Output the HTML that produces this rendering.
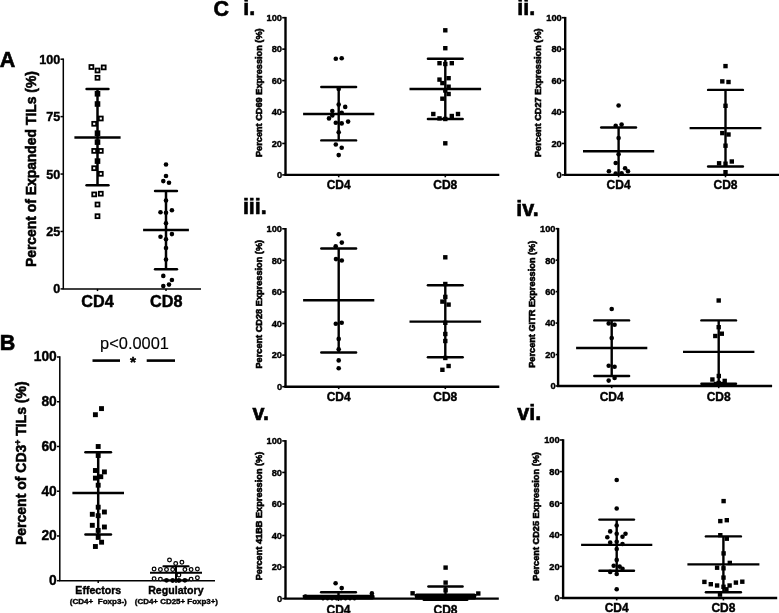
<!DOCTYPE html>
<html lang="en">
<head>
<meta charset="utf-8">
<title>Figure</title>
<style>
html,body{margin:0;padding:0;background:#fff;}
body{width:779px;height:613px;overflow:hidden;font-family:'Liberation Sans', sans-serif;}
svg{display:block;will-change:transform;filter:grayscale(1);}
svg text{font-family:'Liberation Sans', sans-serif;fill:#000;}
</style>
</head>
<body>
<svg width="779" height="613" viewBox="0 0 779 613">
<rect x="0" y="0" width="779" height="613" fill="#fff"/>
<text x="-0.30" y="67.30" font-size="21.5" font-weight="bold" text-anchor="start" stroke="#000" stroke-width="0.63">A</text>
<line x1="63.30" y1="58.45" x2="63.30" y2="288.90" stroke="#000" stroke-width="1.5" stroke-linecap="butt"/>
<line x1="62.55" y1="288.90" x2="201.00" y2="288.90" stroke="#000" stroke-width="1.5" stroke-linecap="butt"/>
<line x1="60.50" y1="288.90" x2="63.30" y2="288.90" stroke="#000" stroke-width="1.5" stroke-linecap="butt"/>
<text x="60.20" y="293.44" font-size="12.6" font-weight="bold" text-anchor="end" stroke="#000" stroke-width="0.40">0</text>
<line x1="60.50" y1="231.47" x2="63.30" y2="231.47" stroke="#000" stroke-width="1.5" stroke-linecap="butt"/>
<text x="60.20" y="236.01" font-size="12.6" font-weight="bold" text-anchor="end" stroke="#000" stroke-width="0.40">25</text>
<line x1="60.50" y1="174.05" x2="63.30" y2="174.05" stroke="#000" stroke-width="1.5" stroke-linecap="butt"/>
<text x="60.20" y="178.59" font-size="12.6" font-weight="bold" text-anchor="end" stroke="#000" stroke-width="0.40">50</text>
<line x1="60.50" y1="116.62" x2="63.30" y2="116.62" stroke="#000" stroke-width="1.5" stroke-linecap="butt"/>
<text x="60.20" y="121.16" font-size="12.6" font-weight="bold" text-anchor="end" stroke="#000" stroke-width="0.40">75</text>
<line x1="60.50" y1="59.20" x2="63.30" y2="59.20" stroke="#000" stroke-width="1.5" stroke-linecap="butt"/>
<text x="60.20" y="63.74" font-size="12.6" font-weight="bold" text-anchor="end" stroke="#000" stroke-width="0.40">100</text>
<line x1="97.50" y1="288.90" x2="97.50" y2="291.10" stroke="#000" stroke-width="1.5" stroke-linecap="butt"/>
<line x1="166.00" y1="288.90" x2="166.00" y2="291.10" stroke="#000" stroke-width="1.5" stroke-linecap="butt"/>
<text x="35.70" y="169.10" font-size="13.9" font-weight="bold" text-anchor="middle" stroke="#000" stroke-width="0.59" transform="rotate(-90 35.70 169.10)">Percent of Expanded TILs (%)</text>
<text x="97.50" y="306.80" font-size="16.2" font-weight="bold" text-anchor="middle" stroke="#000" stroke-width="0.47">CD4</text>
<text x="166.30" y="306.80" font-size="16.2" font-weight="bold" text-anchor="middle" stroke="#000" stroke-width="0.47">CD8</text>
<rect x="89.45" y="65.05" width="3.9" height="3.9" fill="#fff" stroke="#000" stroke-width="1.8"/>
<rect x="101.75" y="65.45" width="3.9" height="3.9" fill="#fff" stroke="#000" stroke-width="1.8"/>
<rect x="95.55" y="68.55" width="3.9" height="3.9" fill="#fff" stroke="#000" stroke-width="1.8"/>
<rect x="95.55" y="75.85" width="3.9" height="3.9" fill="#fff" stroke="#000" stroke-width="1.8"/>
<rect x="94.70" y="91.00" width="5.6" height="5.6" fill="#000"/>
<rect x="94.70" y="101.20" width="5.6" height="5.6" fill="#000"/>
<rect x="98.85" y="116.55" width="3.9" height="3.9" fill="#fff" stroke="#000" stroke-width="1.8"/>
<rect x="92.25" y="121.85" width="3.9" height="3.9" fill="#fff" stroke="#000" stroke-width="1.8"/>
<rect x="94.70" y="130.40" width="5.6" height="5.6" fill="#000"/>
<rect x="94.70" y="139.30" width="5.6" height="5.6" fill="#000"/>
<rect x="92.25" y="148.95" width="3.9" height="3.9" fill="#fff" stroke="#000" stroke-width="1.8"/>
<rect x="98.85" y="148.95" width="3.9" height="3.9" fill="#fff" stroke="#000" stroke-width="1.8"/>
<rect x="94.70" y="158.30" width="5.6" height="5.6" fill="#000"/>
<rect x="92.25" y="166.25" width="3.9" height="3.9" fill="#fff" stroke="#000" stroke-width="1.8"/>
<rect x="98.85" y="171.85" width="3.9" height="3.9" fill="#fff" stroke="#000" stroke-width="1.8"/>
<rect x="92.25" y="192.45" width="3.9" height="3.9" fill="#fff" stroke="#000" stroke-width="1.8"/>
<rect x="98.85" y="191.75" width="3.9" height="3.9" fill="#fff" stroke="#000" stroke-width="1.8"/>
<rect x="95.55" y="202.55" width="3.9" height="3.9" fill="#fff" stroke="#000" stroke-width="1.8"/>
<rect x="95.55" y="214.25" width="3.9" height="3.9" fill="#fff" stroke="#000" stroke-width="1.8"/>
<line x1="97.50" y1="89.10" x2="97.50" y2="185.20" stroke="#000" stroke-width="2.5" stroke-linecap="butt"/>
<line x1="86.55" y1="89.10" x2="108.45" y2="89.10" stroke="#000" stroke-width="2.5" stroke-linecap="round"/>
<line x1="86.55" y1="185.20" x2="108.45" y2="185.20" stroke="#000" stroke-width="2.5" stroke-linecap="round"/>
<line x1="74.40" y1="137.60" x2="120.60" y2="137.60" stroke="#000" stroke-width="2.5" stroke-linecap="butt"/>
<line x1="166.00" y1="190.90" x2="166.00" y2="269.20" stroke="#000" stroke-width="2.5" stroke-linecap="butt"/>
<line x1="155.05" y1="190.90" x2="176.95" y2="190.90" stroke="#000" stroke-width="2.5" stroke-linecap="round"/>
<line x1="155.05" y1="269.20" x2="176.95" y2="269.20" stroke="#000" stroke-width="2.5" stroke-linecap="round"/>
<line x1="143.10" y1="230.00" x2="188.90" y2="230.00" stroke="#000" stroke-width="2.5" stroke-linecap="butt"/>
<circle cx="166.00" cy="164.50" r="2.3" fill="#000"/>
<circle cx="166.00" cy="176.00" r="2.3" fill="#000"/>
<circle cx="163.30" cy="181.10" r="2.3" fill="#000"/>
<circle cx="169.00" cy="182.70" r="2.3" fill="#000"/>
<circle cx="166.00" cy="200.50" r="2.3" fill="#000"/>
<circle cx="160.50" cy="212.30" r="2.3" fill="#000"/>
<circle cx="171.90" cy="210.30" r="2.3" fill="#000"/>
<circle cx="166.00" cy="212.70" r="2.3" fill="#000"/>
<circle cx="166.00" cy="223.30" r="2.3" fill="#000"/>
<circle cx="160.50" cy="236.70" r="2.3" fill="#000"/>
<circle cx="171.90" cy="234.10" r="2.3" fill="#000"/>
<circle cx="166.00" cy="239.20" r="2.3" fill="#000"/>
<circle cx="166.00" cy="248.00" r="2.3" fill="#000"/>
<circle cx="166.00" cy="259.60" r="2.3" fill="#000"/>
<circle cx="163.30" cy="275.90" r="2.3" fill="#000"/>
<circle cx="171.90" cy="280.00" r="2.3" fill="#000"/>
<circle cx="169.00" cy="284.60" r="2.3" fill="#000"/>
<circle cx="163.30" cy="286.10" r="2.3" fill="#000"/>
<text x="-0.20" y="349.60" font-size="21.5" font-weight="bold" text-anchor="start" stroke="#000" stroke-width="0.63">B</text>
<line x1="59.80" y1="356.25" x2="59.80" y2="580.70" stroke="#000" stroke-width="1.5" stroke-linecap="butt"/>
<line x1="59.05" y1="580.70" x2="215.00" y2="580.70" stroke="#000" stroke-width="1.5" stroke-linecap="butt"/>
<line x1="57.00" y1="580.70" x2="59.80" y2="580.70" stroke="#000" stroke-width="1.5" stroke-linecap="butt"/>
<text x="56.80" y="585.07" font-size="13.8" font-weight="bold" text-anchor="end" stroke="#000" stroke-width="0.40">0</text>
<line x1="57.00" y1="535.96" x2="59.80" y2="535.96" stroke="#000" stroke-width="1.5" stroke-linecap="butt"/>
<text x="56.80" y="540.33" font-size="13.8" font-weight="bold" text-anchor="end" stroke="#000" stroke-width="0.40">20</text>
<line x1="57.00" y1="491.22" x2="59.80" y2="491.22" stroke="#000" stroke-width="1.5" stroke-linecap="butt"/>
<text x="56.80" y="495.59" font-size="13.8" font-weight="bold" text-anchor="end" stroke="#000" stroke-width="0.40">40</text>
<line x1="57.00" y1="446.48" x2="59.80" y2="446.48" stroke="#000" stroke-width="1.5" stroke-linecap="butt"/>
<text x="56.80" y="450.85" font-size="13.8" font-weight="bold" text-anchor="end" stroke="#000" stroke-width="0.40">60</text>
<line x1="57.00" y1="401.74" x2="59.80" y2="401.74" stroke="#000" stroke-width="1.5" stroke-linecap="butt"/>
<text x="56.80" y="406.11" font-size="13.8" font-weight="bold" text-anchor="end" stroke="#000" stroke-width="0.40">80</text>
<line x1="57.00" y1="357.00" x2="59.80" y2="357.00" stroke="#000" stroke-width="1.5" stroke-linecap="butt"/>
<text x="56.80" y="361.37" font-size="13.8" font-weight="bold" text-anchor="end" stroke="#000" stroke-width="0.40">100</text>
<line x1="98.20" y1="580.70" x2="98.20" y2="582.90" stroke="#000" stroke-width="1.5" stroke-linecap="butt"/>
<line x1="176.00" y1="580.70" x2="176.00" y2="582.90" stroke="#000" stroke-width="1.5" stroke-linecap="butt"/>
<text x="26.3" y="463.2" font-size="14" font-weight="bold" text-anchor="middle" stroke="#000" stroke-width="0.58" transform="rotate(-90 26.3 463.2)">Percent of CD3<tspan font-size="8.5" dy="-5">+</tspan><tspan dy="5"> TILs (%)</tspan></text>
<text x="134.50" y="349.20" font-size="16.4" font-weight="normal" text-anchor="middle" stroke="#000" stroke-width="0.15">p&lt;0.0001</text>
<line x1="92.50" y1="360.60" x2="120.00" y2="360.60" stroke="#000" stroke-width="2.6" stroke-linecap="butt"/>
<line x1="146.70" y1="360.60" x2="175.00" y2="360.60" stroke="#000" stroke-width="2.6" stroke-linecap="butt"/>
<text x="133.10" y="366.80" font-size="15.5" font-weight="bold" text-anchor="middle" stroke="#000" stroke-width="0.45">*</text>
<text x="98.30" y="594.00" font-size="10.6" font-weight="bold" text-anchor="middle" stroke="#000" stroke-width="0.40">Effectors</text>
<text x="175.90" y="594.00" font-size="10.6" font-weight="bold" text-anchor="middle" stroke="#000" stroke-width="0.40">Regulatory</text>
<text x="98.30" y="604.30" font-size="8.05" font-weight="bold" text-anchor="middle" stroke="#000" stroke-width="0.40" style="white-space:pre">(CD4+  Foxp3-)</text>
<text x="176.40" y="604.30" font-size="7.95" font-weight="bold" text-anchor="middle" stroke="#000" stroke-width="0.40">(CD4+ CD25+ Foxp3+)</text>
<line x1="98.20" y1="452.20" x2="98.20" y2="534.60" stroke="#000" stroke-width="2.5" stroke-linecap="butt"/>
<line x1="85.45" y1="452.20" x2="110.95" y2="452.20" stroke="#000" stroke-width="2.5" stroke-linecap="round"/>
<line x1="85.45" y1="534.60" x2="110.95" y2="534.60" stroke="#000" stroke-width="2.5" stroke-linecap="round"/>
<line x1="72.40" y1="493.10" x2="124.00" y2="493.10" stroke="#000" stroke-width="2.5" stroke-linecap="butt"/>
<rect x="99.05" y="406.15" width="4.9" height="4.9" fill="#000"/>
<rect x="92.95" y="412.25" width="4.9" height="4.9" fill="#000"/>
<rect x="95.75" y="444.05" width="4.9" height="4.9" fill="#000"/>
<rect x="95.75" y="453.05" width="4.9" height="4.9" fill="#000"/>
<rect x="92.95" y="468.05" width="4.9" height="4.9" fill="#000"/>
<rect x="101.95" y="469.45" width="4.9" height="4.9" fill="#000"/>
<rect x="92.95" y="475.65" width="4.9" height="4.9" fill="#000"/>
<rect x="98.35" y="474.25" width="4.9" height="4.9" fill="#000"/>
<rect x="95.75" y="482.75" width="4.9" height="4.9" fill="#000"/>
<rect x="95.75" y="504.75" width="4.9" height="4.9" fill="#000"/>
<rect x="101.95" y="509.55" width="4.9" height="4.9" fill="#000"/>
<rect x="89.85" y="511.85" width="4.9" height="4.9" fill="#000"/>
<rect x="95.75" y="513.25" width="4.9" height="4.9" fill="#000"/>
<rect x="89.85" y="522.85" width="4.9" height="4.9" fill="#000"/>
<rect x="101.95" y="524.55" width="4.9" height="4.9" fill="#000"/>
<rect x="95.75" y="527.95" width="4.9" height="4.9" fill="#000"/>
<rect x="95.75" y="534.95" width="4.9" height="4.9" fill="#000"/>
<rect x="99.15" y="539.75" width="4.9" height="4.9" fill="#000"/>
<rect x="92.95" y="544.05" width="4.9" height="4.9" fill="#000"/>
<circle cx="169.50" cy="560.00" r="1.85" fill="#fff" stroke="#000" stroke-width="1.25"/>
<circle cx="175.70" cy="563.40" r="1.85" fill="#fff" stroke="#000" stroke-width="1.25"/>
<circle cx="181.90" cy="562.30" r="1.85" fill="#fff" stroke="#000" stroke-width="1.25"/>
<circle cx="154.10" cy="569.00" r="1.85" fill="#fff" stroke="#000" stroke-width="1.25"/>
<circle cx="160.40" cy="569.50" r="1.85" fill="#fff" stroke="#000" stroke-width="1.25"/>
<circle cx="166.50" cy="569.50" r="1.85" fill="#fff" stroke="#000" stroke-width="1.25"/>
<circle cx="172.70" cy="569.50" r="1.85" fill="#fff" stroke="#000" stroke-width="1.25"/>
<circle cx="184.90" cy="569.50" r="1.85" fill="#fff" stroke="#000" stroke-width="1.25"/>
<circle cx="191.10" cy="569.50" r="1.85" fill="#fff" stroke="#000" stroke-width="1.25"/>
<circle cx="197.40" cy="569.00" r="1.85" fill="#fff" stroke="#000" stroke-width="1.25"/>
<circle cx="178.90" cy="575.00" r="1.85" fill="#fff" stroke="#000" stroke-width="1.25"/>
<circle cx="154.10" cy="578.80" r="1.85" fill="#fff" stroke="#000" stroke-width="1.25"/>
<circle cx="160.40" cy="579.10" r="1.85" fill="#fff" stroke="#000" stroke-width="1.25"/>
<circle cx="191.10" cy="579.10" r="1.85" fill="#fff" stroke="#000" stroke-width="1.25"/>
<circle cx="197.40" cy="577.80" r="1.85" fill="#fff" stroke="#000" stroke-width="1.25"/>
<line x1="176.00" y1="566.20" x2="176.00" y2="580.30" stroke="#000" stroke-width="2.0" stroke-linecap="butt"/>
<line x1="163.40" y1="566.20" x2="188.60" y2="566.20" stroke="#000" stroke-width="2.0" stroke-linecap="round"/>
<line x1="163.40" y1="580.30" x2="188.60" y2="580.30" stroke="#000" stroke-width="2.0" stroke-linecap="round"/>
<line x1="150.00" y1="572.80" x2="202.00" y2="572.80" stroke="#000" stroke-width="2.0" stroke-linecap="butt"/>
<circle cx="166.50" cy="580.30" r="2.4" fill="#000"/>
<circle cx="172.70" cy="580.50" r="2.4" fill="#000"/>
<circle cx="178.90" cy="580.50" r="2.4" fill="#000"/>
<circle cx="184.90" cy="580.30" r="2.4" fill="#000"/>
<text x="213.60" y="16.40" font-size="21.5" font-weight="bold" text-anchor="start" stroke="#000" stroke-width="0.63">C</text>
<line x1="285.50" y1="16.90" x2="285.50" y2="174.90" stroke="#000" stroke-width="2.4" stroke-linecap="butt"/>
<line x1="284.30" y1="174.90" x2="499.30" y2="174.90" stroke="#000" stroke-width="2.4" stroke-linecap="butt"/>
<line x1="282.20" y1="174.90" x2="285.50" y2="174.90" stroke="#000" stroke-width="1.6" stroke-linecap="butt"/>
<text x="282.05" y="178.25" font-size="9.3" font-weight="bold" text-anchor="end" stroke="#000" stroke-width="0.40">0</text>
<line x1="282.20" y1="143.46" x2="285.50" y2="143.46" stroke="#000" stroke-width="1.6" stroke-linecap="butt"/>
<text x="282.05" y="146.81" font-size="9.3" font-weight="bold" text-anchor="end" stroke="#000" stroke-width="0.40">20</text>
<line x1="282.20" y1="112.02" x2="285.50" y2="112.02" stroke="#000" stroke-width="1.6" stroke-linecap="butt"/>
<text x="282.05" y="115.37" font-size="9.3" font-weight="bold" text-anchor="end" stroke="#000" stroke-width="0.40">40</text>
<line x1="282.20" y1="80.58" x2="285.50" y2="80.58" stroke="#000" stroke-width="1.6" stroke-linecap="butt"/>
<text x="282.05" y="83.93" font-size="9.3" font-weight="bold" text-anchor="end" stroke="#000" stroke-width="0.40">60</text>
<line x1="282.20" y1="49.14" x2="285.50" y2="49.14" stroke="#000" stroke-width="1.6" stroke-linecap="butt"/>
<text x="282.05" y="52.49" font-size="9.3" font-weight="bold" text-anchor="end" stroke="#000" stroke-width="0.40">80</text>
<line x1="282.20" y1="17.70" x2="285.50" y2="17.70" stroke="#000" stroke-width="1.6" stroke-linecap="butt"/>
<text x="282.05" y="21.05" font-size="9.3" font-weight="bold" text-anchor="end" stroke="#000" stroke-width="0.40">100</text>
<line x1="338.70" y1="174.90" x2="338.70" y2="177.30" stroke="#000" stroke-width="1.6" stroke-linecap="butt"/>
<line x1="445.30" y1="174.90" x2="445.30" y2="177.30" stroke="#000" stroke-width="1.6" stroke-linecap="butt"/>
<text x="243.30" y="15.40" font-size="21.5" font-weight="bold" text-anchor="start" stroke="#000" stroke-width="0.63">i.</text>
<text x="261.70" y="92.70" font-size="9.2" font-weight="bold" text-anchor="middle" stroke="#000" stroke-width="0.58" transform="rotate(-90 261.70 92.70)">Percent CD69 Expression (%)</text>
<text x="338.70" y="189.10" font-size="12" font-weight="bold" text-anchor="middle" stroke="#000" stroke-width="0.40">CD4</text>
<text x="445.30" y="189.10" font-size="12" font-weight="bold" text-anchor="middle" stroke="#000" stroke-width="0.40">CD8</text>
<line x1="338.70" y1="87.00" x2="338.70" y2="140.40" stroke="#000" stroke-width="2.4" stroke-linecap="butt"/>
<line x1="321.30" y1="87.00" x2="356.10" y2="87.00" stroke="#000" stroke-width="2.4" stroke-linecap="round"/>
<line x1="321.30" y1="140.40" x2="356.10" y2="140.40" stroke="#000" stroke-width="2.4" stroke-linecap="round"/>
<line x1="303.10" y1="114.00" x2="374.30" y2="114.00" stroke="#000" stroke-width="2.4" stroke-linecap="butt"/>
<circle cx="335.80" cy="58.80" r="2.3" fill="#000"/>
<circle cx="341.70" cy="58.20" r="2.3" fill="#000"/>
<circle cx="338.70" cy="89.00" r="2.3" fill="#000"/>
<circle cx="338.70" cy="104.60" r="2.3" fill="#000"/>
<circle cx="345.20" cy="106.90" r="2.3" fill="#000"/>
<circle cx="332.30" cy="111.00" r="2.3" fill="#000"/>
<circle cx="341.70" cy="112.80" r="2.3" fill="#000"/>
<circle cx="332.30" cy="115.40" r="2.3" fill="#000"/>
<circle cx="329.00" cy="118.40" r="2.3" fill="#000"/>
<circle cx="348.10" cy="121.60" r="2.3" fill="#000"/>
<circle cx="335.80" cy="122.80" r="2.3" fill="#000"/>
<circle cx="341.70" cy="123.40" r="2.3" fill="#000"/>
<circle cx="338.70" cy="132.20" r="2.3" fill="#000"/>
<circle cx="335.80" cy="144.50" r="2.3" fill="#000"/>
<circle cx="341.70" cy="147.80" r="2.3" fill="#000"/>
<circle cx="338.70" cy="155.10" r="2.3" fill="#000"/>
<line x1="445.30" y1="58.80" x2="445.30" y2="119.00" stroke="#000" stroke-width="2.4" stroke-linecap="butt"/>
<line x1="427.90" y1="58.80" x2="462.70" y2="58.80" stroke="#000" stroke-width="2.4" stroke-linecap="round"/>
<line x1="427.90" y1="119.00" x2="462.70" y2="119.00" stroke="#000" stroke-width="2.4" stroke-linecap="round"/>
<line x1="409.50" y1="89.00" x2="481.10" y2="89.00" stroke="#000" stroke-width="2.4" stroke-linecap="butt"/>
<rect x="443.10" y="28.10" width="4.4" height="4.4" fill="#000"/>
<rect x="443.10" y="46.00" width="4.4" height="4.4" fill="#000"/>
<rect x="437.30" y="61.00" width="4.4" height="4.4" fill="#000"/>
<rect x="449.60" y="61.00" width="4.4" height="4.4" fill="#000"/>
<rect x="443.10" y="61.80" width="4.4" height="4.4" fill="#000"/>
<rect x="437.30" y="77.40" width="4.4" height="4.4" fill="#000"/>
<rect x="446.40" y="76.00" width="4.4" height="4.4" fill="#000"/>
<rect x="440.20" y="80.90" width="4.4" height="4.4" fill="#000"/>
<rect x="446.40" y="84.50" width="4.4" height="4.4" fill="#000"/>
<rect x="443.10" y="88.30" width="4.4" height="4.4" fill="#000"/>
<rect x="446.40" y="91.80" width="4.4" height="4.4" fill="#000"/>
<rect x="440.20" y="96.50" width="4.4" height="4.4" fill="#000"/>
<rect x="431.10" y="111.80" width="4.4" height="4.4" fill="#000"/>
<rect x="455.80" y="111.80" width="4.4" height="4.4" fill="#000"/>
<rect x="449.60" y="113.80" width="4.4" height="4.4" fill="#000"/>
<rect x="437.30" y="116.20" width="4.4" height="4.4" fill="#000"/>
<rect x="443.10" y="116.80" width="4.4" height="4.4" fill="#000"/>
<rect x="443.10" y="141.10" width="4.4" height="4.4" fill="#000"/>
<line x1="565.20" y1="16.90" x2="565.20" y2="174.90" stroke="#000" stroke-width="2.4" stroke-linecap="butt"/>
<line x1="564.00" y1="174.90" x2="779.00" y2="174.90" stroke="#000" stroke-width="2.4" stroke-linecap="butt"/>
<line x1="561.90" y1="174.90" x2="565.20" y2="174.90" stroke="#000" stroke-width="1.6" stroke-linecap="butt"/>
<text x="561.75" y="178.25" font-size="9.3" font-weight="bold" text-anchor="end" stroke="#000" stroke-width="0.40">0</text>
<line x1="561.90" y1="143.46" x2="565.20" y2="143.46" stroke="#000" stroke-width="1.6" stroke-linecap="butt"/>
<text x="561.75" y="146.81" font-size="9.3" font-weight="bold" text-anchor="end" stroke="#000" stroke-width="0.40">20</text>
<line x1="561.90" y1="112.02" x2="565.20" y2="112.02" stroke="#000" stroke-width="1.6" stroke-linecap="butt"/>
<text x="561.75" y="115.37" font-size="9.3" font-weight="bold" text-anchor="end" stroke="#000" stroke-width="0.40">40</text>
<line x1="561.90" y1="80.58" x2="565.20" y2="80.58" stroke="#000" stroke-width="1.6" stroke-linecap="butt"/>
<text x="561.75" y="83.93" font-size="9.3" font-weight="bold" text-anchor="end" stroke="#000" stroke-width="0.40">60</text>
<line x1="561.90" y1="49.14" x2="565.20" y2="49.14" stroke="#000" stroke-width="1.6" stroke-linecap="butt"/>
<text x="561.75" y="52.49" font-size="9.3" font-weight="bold" text-anchor="end" stroke="#000" stroke-width="0.40">80</text>
<line x1="561.90" y1="17.70" x2="565.20" y2="17.70" stroke="#000" stroke-width="1.6" stroke-linecap="butt"/>
<text x="561.75" y="21.05" font-size="9.3" font-weight="bold" text-anchor="end" stroke="#000" stroke-width="0.40">100</text>
<line x1="618.60" y1="174.90" x2="618.60" y2="177.30" stroke="#000" stroke-width="1.6" stroke-linecap="butt"/>
<line x1="725.50" y1="174.90" x2="725.50" y2="177.30" stroke="#000" stroke-width="1.6" stroke-linecap="butt"/>
<text x="517.30" y="15.40" font-size="21.5" font-weight="bold" text-anchor="start" stroke="#000" stroke-width="0.63">ii.</text>
<text x="541.40" y="92.70" font-size="9.2" font-weight="bold" text-anchor="middle" stroke="#000" stroke-width="0.58" transform="rotate(-90 541.40 92.70)">Percent CD27 Expression (%)</text>
<text x="618.60" y="189.10" font-size="12" font-weight="bold" text-anchor="middle" stroke="#000" stroke-width="0.40">CD4</text>
<text x="725.50" y="189.10" font-size="12" font-weight="bold" text-anchor="middle" stroke="#000" stroke-width="0.40">CD8</text>
<line x1="618.60" y1="127.50" x2="618.60" y2="174.80" stroke="#000" stroke-width="2.4" stroke-linecap="butt"/>
<line x1="601.20" y1="127.50" x2="636.00" y2="127.50" stroke="#000" stroke-width="2.4" stroke-linecap="round"/>
<line x1="583.00" y1="151.30" x2="654.20" y2="151.30" stroke="#000" stroke-width="2.4" stroke-linecap="butt"/>
<circle cx="618.60" cy="105.50" r="2.3" fill="#000"/>
<circle cx="615.70" cy="125.70" r="2.3" fill="#000"/>
<circle cx="621.60" cy="124.60" r="2.3" fill="#000"/>
<circle cx="618.60" cy="138.10" r="2.3" fill="#000"/>
<circle cx="618.60" cy="154.20" r="2.3" fill="#000"/>
<circle cx="615.70" cy="163.00" r="2.3" fill="#000"/>
<circle cx="608.90" cy="171.20" r="2.3" fill="#000"/>
<circle cx="625.10" cy="168.30" r="2.3" fill="#000"/>
<circle cx="628.00" cy="171.20" r="2.3" fill="#000"/>
<circle cx="615.70" cy="173.60" r="2.3" fill="#000"/>
<circle cx="621.60" cy="173.30" r="2.3" fill="#000"/>
<line x1="725.50" y1="89.90" x2="725.50" y2="166.50" stroke="#000" stroke-width="2.4" stroke-linecap="butt"/>
<line x1="708.10" y1="89.90" x2="742.90" y2="89.90" stroke="#000" stroke-width="2.4" stroke-linecap="round"/>
<line x1="708.10" y1="166.50" x2="742.90" y2="166.50" stroke="#000" stroke-width="2.4" stroke-linecap="round"/>
<line x1="689.60" y1="128.10" x2="761.40" y2="128.10" stroke="#000" stroke-width="2.4" stroke-linecap="butt"/>
<rect x="723.30" y="63.90" width="4.4" height="4.4" fill="#000"/>
<rect x="720.10" y="79.20" width="4.4" height="4.4" fill="#000"/>
<rect x="726.30" y="79.80" width="4.4" height="4.4" fill="#000"/>
<rect x="723.30" y="103.60" width="4.4" height="4.4" fill="#000"/>
<rect x="720.10" y="130.90" width="4.4" height="4.4" fill="#000"/>
<rect x="726.30" y="132.30" width="4.4" height="4.4" fill="#000"/>
<rect x="723.30" y="143.50" width="4.4" height="4.4" fill="#000"/>
<rect x="716.90" y="161.10" width="4.4" height="4.4" fill="#000"/>
<rect x="729.60" y="159.30" width="4.4" height="4.4" fill="#000"/>
<rect x="723.30" y="161.50" width="4.4" height="4.4" fill="#000"/>
<rect x="723.30" y="170.00" width="4.4" height="4.4" fill="#000"/>
<line x1="285.50" y1="228.00" x2="285.50" y2="386.70" stroke="#000" stroke-width="2.4" stroke-linecap="butt"/>
<line x1="284.30" y1="386.70" x2="499.30" y2="386.70" stroke="#000" stroke-width="2.4" stroke-linecap="butt"/>
<line x1="282.20" y1="386.70" x2="285.50" y2="386.70" stroke="#000" stroke-width="1.6" stroke-linecap="butt"/>
<text x="282.05" y="390.05" font-size="9.3" font-weight="bold" text-anchor="end" stroke="#000" stroke-width="0.40">0</text>
<line x1="282.20" y1="355.12" x2="285.50" y2="355.12" stroke="#000" stroke-width="1.6" stroke-linecap="butt"/>
<text x="282.05" y="358.47" font-size="9.3" font-weight="bold" text-anchor="end" stroke="#000" stroke-width="0.40">20</text>
<line x1="282.20" y1="323.54" x2="285.50" y2="323.54" stroke="#000" stroke-width="1.6" stroke-linecap="butt"/>
<text x="282.05" y="326.89" font-size="9.3" font-weight="bold" text-anchor="end" stroke="#000" stroke-width="0.40">40</text>
<line x1="282.20" y1="291.96" x2="285.50" y2="291.96" stroke="#000" stroke-width="1.6" stroke-linecap="butt"/>
<text x="282.05" y="295.31" font-size="9.3" font-weight="bold" text-anchor="end" stroke="#000" stroke-width="0.40">60</text>
<line x1="282.20" y1="260.38" x2="285.50" y2="260.38" stroke="#000" stroke-width="1.6" stroke-linecap="butt"/>
<text x="282.05" y="263.73" font-size="9.3" font-weight="bold" text-anchor="end" stroke="#000" stroke-width="0.40">80</text>
<line x1="282.20" y1="228.80" x2="285.50" y2="228.80" stroke="#000" stroke-width="1.6" stroke-linecap="butt"/>
<text x="282.05" y="232.15" font-size="9.3" font-weight="bold" text-anchor="end" stroke="#000" stroke-width="0.40">100</text>
<line x1="338.70" y1="386.70" x2="338.70" y2="389.10" stroke="#000" stroke-width="1.6" stroke-linecap="butt"/>
<line x1="445.30" y1="386.70" x2="445.30" y2="389.10" stroke="#000" stroke-width="1.6" stroke-linecap="butt"/>
<text x="242.90" y="214.30" font-size="21.5" font-weight="bold" text-anchor="start" stroke="#000" stroke-width="0.63">iii.</text>
<text x="261.70" y="304.20" font-size="9.2" font-weight="bold" text-anchor="middle" stroke="#000" stroke-width="0.58" transform="rotate(-90 261.70 304.20)">Percent CD28 Expression (%)</text>
<text x="338.70" y="400.80" font-size="12" font-weight="bold" text-anchor="middle" stroke="#000" stroke-width="0.40">CD4</text>
<text x="445.30" y="400.80" font-size="12" font-weight="bold" text-anchor="middle" stroke="#000" stroke-width="0.40">CD8</text>
<line x1="338.70" y1="248.50" x2="338.70" y2="352.50" stroke="#000" stroke-width="2.4" stroke-linecap="butt"/>
<line x1="321.30" y1="248.50" x2="356.10" y2="248.50" stroke="#000" stroke-width="2.4" stroke-linecap="round"/>
<line x1="321.30" y1="352.50" x2="356.10" y2="352.50" stroke="#000" stroke-width="2.4" stroke-linecap="round"/>
<line x1="303.10" y1="300.30" x2="374.30" y2="300.30" stroke="#000" stroke-width="2.4" stroke-linecap="butt"/>
<circle cx="338.70" cy="234.30" r="2.3" fill="#000"/>
<circle cx="341.80" cy="242.60" r="2.3" fill="#000"/>
<circle cx="335.70" cy="246.20" r="2.3" fill="#000"/>
<circle cx="336.00" cy="259.10" r="2.3" fill="#000"/>
<circle cx="341.80" cy="260.50" r="2.3" fill="#000"/>
<circle cx="335.80" cy="323.70" r="2.3" fill="#000"/>
<circle cx="341.70" cy="322.80" r="2.3" fill="#000"/>
<circle cx="338.70" cy="338.90" r="2.3" fill="#000"/>
<circle cx="338.70" cy="349.20" r="2.3" fill="#000"/>
<circle cx="338.70" cy="360.40" r="2.3" fill="#000"/>
<circle cx="338.70" cy="368.30" r="2.3" fill="#000"/>
<line x1="445.30" y1="285.20" x2="445.30" y2="357.20" stroke="#000" stroke-width="2.4" stroke-linecap="butt"/>
<line x1="427.90" y1="285.20" x2="462.70" y2="285.20" stroke="#000" stroke-width="2.4" stroke-linecap="round"/>
<line x1="427.90" y1="357.20" x2="462.70" y2="357.20" stroke="#000" stroke-width="2.4" stroke-linecap="round"/>
<line x1="409.50" y1="321.60" x2="481.10" y2="321.60" stroke="#000" stroke-width="2.4" stroke-linecap="butt"/>
<rect x="443.10" y="255.10" width="4.4" height="4.4" fill="#000"/>
<rect x="443.10" y="281.80" width="4.4" height="4.4" fill="#000"/>
<rect x="443.10" y="294.70" width="4.4" height="4.4" fill="#000"/>
<rect x="440.20" y="299.40" width="4.4" height="4.4" fill="#000"/>
<rect x="446.40" y="302.40" width="4.4" height="4.4" fill="#000"/>
<rect x="443.10" y="320.60" width="4.4" height="4.4" fill="#000"/>
<rect x="443.10" y="331.80" width="4.4" height="4.4" fill="#000"/>
<rect x="443.10" y="338.80" width="4.4" height="4.4" fill="#000"/>
<rect x="443.10" y="355.80" width="4.4" height="4.4" fill="#000"/>
<rect x="446.40" y="363.80" width="4.4" height="4.4" fill="#000"/>
<rect x="440.20" y="367.60" width="4.4" height="4.4" fill="#000"/>
<line x1="558.10" y1="227.90" x2="558.10" y2="386.00" stroke="#000" stroke-width="2.4" stroke-linecap="butt"/>
<line x1="556.90" y1="386.00" x2="772.10" y2="386.00" stroke="#000" stroke-width="2.4" stroke-linecap="butt"/>
<line x1="555.70" y1="386.00" x2="558.10" y2="386.00" stroke="#000" stroke-width="1.6" stroke-linecap="butt"/>
<text x="555.55" y="389.35" font-size="9.3" font-weight="bold" text-anchor="end" stroke="#000" stroke-width="0.40">0</text>
<line x1="555.70" y1="354.54" x2="558.10" y2="354.54" stroke="#000" stroke-width="1.6" stroke-linecap="butt"/>
<text x="555.55" y="357.89" font-size="9.3" font-weight="bold" text-anchor="end" stroke="#000" stroke-width="0.40">20</text>
<line x1="555.70" y1="323.08" x2="558.10" y2="323.08" stroke="#000" stroke-width="1.6" stroke-linecap="butt"/>
<text x="555.55" y="326.43" font-size="9.3" font-weight="bold" text-anchor="end" stroke="#000" stroke-width="0.40">40</text>
<line x1="555.70" y1="291.62" x2="558.10" y2="291.62" stroke="#000" stroke-width="1.6" stroke-linecap="butt"/>
<text x="555.55" y="294.97" font-size="9.3" font-weight="bold" text-anchor="end" stroke="#000" stroke-width="0.40">60</text>
<line x1="555.70" y1="260.16" x2="558.10" y2="260.16" stroke="#000" stroke-width="1.6" stroke-linecap="butt"/>
<text x="555.55" y="263.51" font-size="9.3" font-weight="bold" text-anchor="end" stroke="#000" stroke-width="0.40">80</text>
<line x1="555.70" y1="228.70" x2="558.10" y2="228.70" stroke="#000" stroke-width="1.6" stroke-linecap="butt"/>
<text x="555.55" y="232.05" font-size="9.3" font-weight="bold" text-anchor="end" stroke="#000" stroke-width="0.40">100</text>
<line x1="611.70" y1="386.00" x2="611.70" y2="388.20" stroke="#000" stroke-width="1.6" stroke-linecap="butt"/>
<line x1="718.70" y1="386.00" x2="718.70" y2="388.20" stroke="#000" stroke-width="1.6" stroke-linecap="butt"/>
<text x="516.30" y="215.60" font-size="21.5" font-weight="bold" text-anchor="start" stroke="#000" stroke-width="0.63">iv.</text>
<text x="534.80" y="304.20" font-size="9.2" font-weight="bold" text-anchor="middle" stroke="#000" stroke-width="0.58" transform="rotate(-90 534.80 304.20)">Percent GITR Expression (%)</text>
<text x="611.70" y="400.80" font-size="12" font-weight="bold" text-anchor="middle" stroke="#000" stroke-width="0.40">CD4</text>
<text x="718.70" y="400.80" font-size="12" font-weight="bold" text-anchor="middle" stroke="#000" stroke-width="0.40">CD8</text>
<line x1="611.70" y1="320.40" x2="611.70" y2="376.00" stroke="#000" stroke-width="2.4" stroke-linecap="butt"/>
<line x1="594.30" y1="320.40" x2="629.10" y2="320.40" stroke="#000" stroke-width="2.4" stroke-linecap="round"/>
<line x1="594.30" y1="376.00" x2="629.10" y2="376.00" stroke="#000" stroke-width="2.4" stroke-linecap="round"/>
<line x1="576.10" y1="348.00" x2="647.30" y2="348.00" stroke="#000" stroke-width="2.4" stroke-linecap="butt"/>
<circle cx="611.70" cy="309.00" r="2.3" fill="#000"/>
<circle cx="608.70" cy="323.40" r="2.3" fill="#000"/>
<circle cx="614.60" cy="324.80" r="2.3" fill="#000"/>
<circle cx="611.70" cy="338.10" r="2.3" fill="#000"/>
<circle cx="608.70" cy="365.70" r="2.3" fill="#000"/>
<circle cx="614.60" cy="366.80" r="2.3" fill="#000"/>
<circle cx="614.60" cy="378.00" r="2.3" fill="#000"/>
<circle cx="608.70" cy="380.60" r="2.3" fill="#000"/>
<line x1="718.70" y1="320.40" x2="718.70" y2="383.70" stroke="#000" stroke-width="2.4" stroke-linecap="butt"/>
<line x1="701.40" y1="320.40" x2="736.00" y2="320.40" stroke="#000" stroke-width="2.4" stroke-linecap="round"/>
<line x1="701.40" y1="383.70" x2="736.00" y2="383.70" stroke="#000" stroke-width="2.4" stroke-linecap="round"/>
<line x1="683.00" y1="351.90" x2="754.40" y2="351.90" stroke="#000" stroke-width="2.4" stroke-linecap="butt"/>
<rect x="716.50" y="298.30" width="4.4" height="4.4" fill="#000"/>
<rect x="716.50" y="325.00" width="4.4" height="4.4" fill="#000"/>
<rect x="713.10" y="333.80" width="4.4" height="4.4" fill="#000"/>
<rect x="719.60" y="331.50" width="4.4" height="4.4" fill="#000"/>
<rect x="716.60" y="373.80" width="4.4" height="4.4" fill="#000"/>
<rect x="710.20" y="377.30" width="4.4" height="4.4" fill="#000"/>
<rect x="722.50" y="378.70" width="4.4" height="4.4" fill="#000"/>
<rect x="716.50" y="380.80" width="4.4" height="4.4" fill="#000"/>
<rect x="713.80" y="381.80" width="4.4" height="4.4" fill="#000"/>
<rect x="719.30" y="381.80" width="4.4" height="4.4" fill="#000"/>
<line x1="285.50" y1="440.10" x2="285.50" y2="598.60" stroke="#000" stroke-width="2.4" stroke-linecap="butt"/>
<line x1="284.30" y1="598.60" x2="498.80" y2="598.60" stroke="#000" stroke-width="2.4" stroke-linecap="butt"/>
<line x1="282.20" y1="598.60" x2="285.50" y2="598.60" stroke="#000" stroke-width="1.6" stroke-linecap="butt"/>
<text x="282.05" y="601.95" font-size="9.3" font-weight="bold" text-anchor="end" stroke="#000" stroke-width="0.40">0</text>
<line x1="282.20" y1="567.06" x2="285.50" y2="567.06" stroke="#000" stroke-width="1.6" stroke-linecap="butt"/>
<text x="282.05" y="570.41" font-size="9.3" font-weight="bold" text-anchor="end" stroke="#000" stroke-width="0.40">20</text>
<line x1="282.20" y1="535.52" x2="285.50" y2="535.52" stroke="#000" stroke-width="1.6" stroke-linecap="butt"/>
<text x="282.05" y="538.87" font-size="9.3" font-weight="bold" text-anchor="end" stroke="#000" stroke-width="0.40">40</text>
<line x1="282.20" y1="503.98" x2="285.50" y2="503.98" stroke="#000" stroke-width="1.6" stroke-linecap="butt"/>
<text x="282.05" y="507.33" font-size="9.3" font-weight="bold" text-anchor="end" stroke="#000" stroke-width="0.40">60</text>
<line x1="282.20" y1="472.44" x2="285.50" y2="472.44" stroke="#000" stroke-width="1.6" stroke-linecap="butt"/>
<text x="282.05" y="475.79" font-size="9.3" font-weight="bold" text-anchor="end" stroke="#000" stroke-width="0.40">80</text>
<line x1="282.20" y1="440.90" x2="285.50" y2="440.90" stroke="#000" stroke-width="1.6" stroke-linecap="butt"/>
<text x="282.05" y="444.25" font-size="9.3" font-weight="bold" text-anchor="end" stroke="#000" stroke-width="0.40">100</text>
<line x1="338.50" y1="598.60" x2="338.50" y2="601.00" stroke="#000" stroke-width="1.6" stroke-linecap="butt"/>
<line x1="445.50" y1="598.60" x2="445.50" y2="601.00" stroke="#000" stroke-width="1.6" stroke-linecap="butt"/>
<text x="252.60" y="419.80" font-size="21.5" font-weight="bold" text-anchor="start" stroke="#000" stroke-width="0.63">v.</text>
<text x="261.70" y="516.00" font-size="9.2" font-weight="bold" text-anchor="middle" stroke="#000" stroke-width="0.58" transform="rotate(-90 261.70 516.00)">Percent 41BB Expression (%)</text>
<text x="338.50" y="613.60" font-size="12" font-weight="bold" text-anchor="middle" stroke="#000" stroke-width="0.40">CD4</text>
<text x="445.50" y="613.60" font-size="12" font-weight="bold" text-anchor="middle" stroke="#000" stroke-width="0.40">CD8</text>
<line x1="338.50" y1="592.20" x2="338.50" y2="598.60" stroke="#000" stroke-width="2.4" stroke-linecap="butt"/>
<line x1="321.10" y1="592.20" x2="355.90" y2="592.20" stroke="#000" stroke-width="2.4" stroke-linecap="round"/>
<line x1="302.70" y1="596.20" x2="374.30" y2="596.20" stroke="#000" stroke-width="2.4" stroke-linecap="butt"/>
<circle cx="335.60" cy="583.20" r="2.3" fill="#000"/>
<circle cx="341.70" cy="588.10" r="2.3" fill="#000"/>
<circle cx="305.30" cy="596.50" r="2.3" fill="#000"/>
<circle cx="371.90" cy="593.40" r="2.3" fill="#000"/>
<rect x="303" y="594.8" width="71.5" height="4.6" rx="2" fill="#000"/>
<circle cx="323.00" cy="599.20" r="1.3" fill="#000"/>
<circle cx="327.50" cy="599.20" r="1.3" fill="#000"/>
<circle cx="332.00" cy="599.20" r="1.3" fill="#000"/>
<circle cx="336.50" cy="599.20" r="1.3" fill="#000"/>
<circle cx="341.00" cy="599.20" r="1.3" fill="#000"/>
<circle cx="345.50" cy="599.20" r="1.3" fill="#000"/>
<circle cx="350.00" cy="599.20" r="1.3" fill="#000"/>
<circle cx="354.50" cy="599.20" r="1.3" fill="#000"/>
<line x1="445.50" y1="586.50" x2="445.50" y2="599.70" stroke="#000" stroke-width="2.4" stroke-linecap="butt"/>
<line x1="428.40" y1="586.50" x2="462.60" y2="586.50" stroke="#000" stroke-width="2.4" stroke-linecap="round"/>
<line x1="423.70" y1="599.70" x2="467.30" y2="599.70" stroke="#000" stroke-width="2.4" stroke-linecap="round"/>
<line x1="414.50" y1="595.20" x2="476.50" y2="595.20" stroke="#000" stroke-width="2.4" stroke-linecap="butt"/>
<rect x="443.40" y="565.40" width="4.4" height="4.4" fill="#000"/>
<rect x="443.40" y="580.40" width="4.4" height="4.4" fill="#000"/>
<rect x="443.40" y="588.10" width="4.4" height="4.4" fill="#000"/>
<rect x="410.40" y="591.10" width="4.4" height="4.4" fill="#000"/>
<rect x="476.10" y="591.30" width="4.4" height="4.4" fill="#000"/>
<rect x="415" y="593.4" width="61" height="6.2" rx="1.5" fill="#000"/>
<line x1="563.10" y1="439.20" x2="563.10" y2="598.00" stroke="#000" stroke-width="2.4" stroke-linecap="butt"/>
<line x1="561.90" y1="598.00" x2="777.20" y2="598.00" stroke="#000" stroke-width="2.4" stroke-linecap="butt"/>
<line x1="559.80" y1="598.00" x2="563.10" y2="598.00" stroke="#000" stroke-width="1.6" stroke-linecap="butt"/>
<text x="559.65" y="601.35" font-size="9.3" font-weight="bold" text-anchor="end" stroke="#000" stroke-width="0.40">0</text>
<line x1="559.80" y1="566.40" x2="563.10" y2="566.40" stroke="#000" stroke-width="1.6" stroke-linecap="butt"/>
<text x="559.65" y="569.75" font-size="9.3" font-weight="bold" text-anchor="end" stroke="#000" stroke-width="0.40">20</text>
<line x1="559.80" y1="534.80" x2="563.10" y2="534.80" stroke="#000" stroke-width="1.6" stroke-linecap="butt"/>
<text x="559.65" y="538.15" font-size="9.3" font-weight="bold" text-anchor="end" stroke="#000" stroke-width="0.40">40</text>
<line x1="559.80" y1="503.20" x2="563.10" y2="503.20" stroke="#000" stroke-width="1.6" stroke-linecap="butt"/>
<text x="559.65" y="506.55" font-size="9.3" font-weight="bold" text-anchor="end" stroke="#000" stroke-width="0.40">60</text>
<line x1="559.80" y1="471.60" x2="563.10" y2="471.60" stroke="#000" stroke-width="1.6" stroke-linecap="butt"/>
<text x="559.65" y="474.95" font-size="9.3" font-weight="bold" text-anchor="end" stroke="#000" stroke-width="0.40">80</text>
<line x1="559.80" y1="440.00" x2="563.10" y2="440.00" stroke="#000" stroke-width="1.6" stroke-linecap="butt"/>
<text x="559.65" y="443.35" font-size="9.3" font-weight="bold" text-anchor="end" stroke="#000" stroke-width="0.40">100</text>
<line x1="616.70" y1="598.00" x2="616.70" y2="600.40" stroke="#000" stroke-width="1.6" stroke-linecap="butt"/>
<line x1="723.40" y1="598.00" x2="723.40" y2="600.40" stroke="#000" stroke-width="1.6" stroke-linecap="butt"/>
<text x="517.30" y="420.00" font-size="21.5" font-weight="bold" text-anchor="start" stroke="#000" stroke-width="0.63">vi.</text>
<text x="539.40" y="516.40" font-size="9.2" font-weight="bold" text-anchor="middle" stroke="#000" stroke-width="0.58" transform="rotate(-90 539.40 516.40)">Percent CD25 Expression (%)</text>
<text x="616.70" y="612.30" font-size="12" font-weight="bold" text-anchor="middle" stroke="#000" stroke-width="0.40">CD4</text>
<text x="723.40" y="612.30" font-size="12" font-weight="bold" text-anchor="middle" stroke="#000" stroke-width="0.40">CD8</text>
<line x1="616.70" y1="519.60" x2="616.70" y2="570.70" stroke="#000" stroke-width="2.4" stroke-linecap="butt"/>
<line x1="599.40" y1="519.60" x2="634.00" y2="519.60" stroke="#000" stroke-width="2.4" stroke-linecap="round"/>
<line x1="599.40" y1="570.70" x2="634.00" y2="570.70" stroke="#000" stroke-width="2.4" stroke-linecap="round"/>
<line x1="581.10" y1="544.90" x2="652.30" y2="544.90" stroke="#000" stroke-width="2.4" stroke-linecap="butt"/>
<circle cx="616.70" cy="480.00" r="2.3" fill="#000"/>
<circle cx="616.70" cy="508.50" r="2.3" fill="#000"/>
<circle cx="616.70" cy="525.50" r="2.3" fill="#000"/>
<circle cx="610.20" cy="531.40" r="2.3" fill="#000"/>
<circle cx="616.70" cy="533.70" r="2.3" fill="#000"/>
<circle cx="625.50" cy="533.70" r="2.3" fill="#000"/>
<circle cx="607.30" cy="537.30" r="2.3" fill="#000"/>
<circle cx="622.50" cy="536.70" r="2.3" fill="#000"/>
<circle cx="610.20" cy="542.50" r="2.3" fill="#000"/>
<circle cx="616.70" cy="541.70" r="2.3" fill="#000"/>
<circle cx="622.50" cy="544.00" r="2.3" fill="#000"/>
<circle cx="616.70" cy="549.00" r="2.3" fill="#000"/>
<circle cx="616.70" cy="559.90" r="2.3" fill="#000"/>
<circle cx="613.70" cy="565.70" r="2.3" fill="#000"/>
<circle cx="619.60" cy="566.60" r="2.3" fill="#000"/>
<circle cx="622.50" cy="568.70" r="2.3" fill="#000"/>
<circle cx="610.20" cy="571.90" r="2.3" fill="#000"/>
<circle cx="616.70" cy="574.00" r="2.3" fill="#000"/>
<circle cx="616.70" cy="589.20" r="2.3" fill="#000"/>
<line x1="723.40" y1="536.40" x2="723.40" y2="592.20" stroke="#000" stroke-width="2.4" stroke-linecap="butt"/>
<line x1="705.90" y1="536.40" x2="740.90" y2="536.40" stroke="#000" stroke-width="2.4" stroke-linecap="round"/>
<line x1="705.90" y1="592.20" x2="740.90" y2="592.20" stroke="#000" stroke-width="2.4" stroke-linecap="round"/>
<line x1="687.40" y1="564.40" x2="759.40" y2="564.40" stroke="#000" stroke-width="2.4" stroke-linecap="butt"/>
<rect x="721.40" y="498.90" width="4.4" height="4.4" fill="#000"/>
<rect x="718.10" y="518.90" width="4.4" height="4.4" fill="#000"/>
<rect x="724.60" y="518.00" width="4.4" height="4.4" fill="#000"/>
<rect x="718.10" y="533.00" width="4.4" height="4.4" fill="#000"/>
<rect x="724.60" y="536.50" width="4.4" height="4.4" fill="#000"/>
<rect x="721.40" y="551.20" width="4.4" height="4.4" fill="#000"/>
<rect x="727.60" y="560.70" width="4.4" height="4.4" fill="#000"/>
<rect x="714.90" y="565.50" width="4.4" height="4.4" fill="#000"/>
<rect x="721.30" y="566.10" width="4.4" height="4.4" fill="#000"/>
<rect x="721.30" y="575.40" width="4.4" height="4.4" fill="#000"/>
<rect x="702.20" y="579.70" width="4.4" height="4.4" fill="#000"/>
<rect x="740.10" y="579.50" width="4.4" height="4.4" fill="#000"/>
<rect x="708.60" y="582.00" width="4.4" height="4.4" fill="#000"/>
<rect x="733.70" y="580.40" width="4.4" height="4.4" fill="#000"/>
<rect x="714.90" y="583.30" width="4.4" height="4.4" fill="#000"/>
<rect x="727.40" y="583.30" width="4.4" height="4.4" fill="#000"/>
<rect x="721.30" y="584.60" width="4.4" height="4.4" fill="#000"/>
<rect x="724.20" y="587.10" width="4.4" height="4.4" fill="#000"/>
<rect x="717.80" y="592.40" width="4.4" height="4.4" fill="#000"/>
</svg>
</body>
</html>
